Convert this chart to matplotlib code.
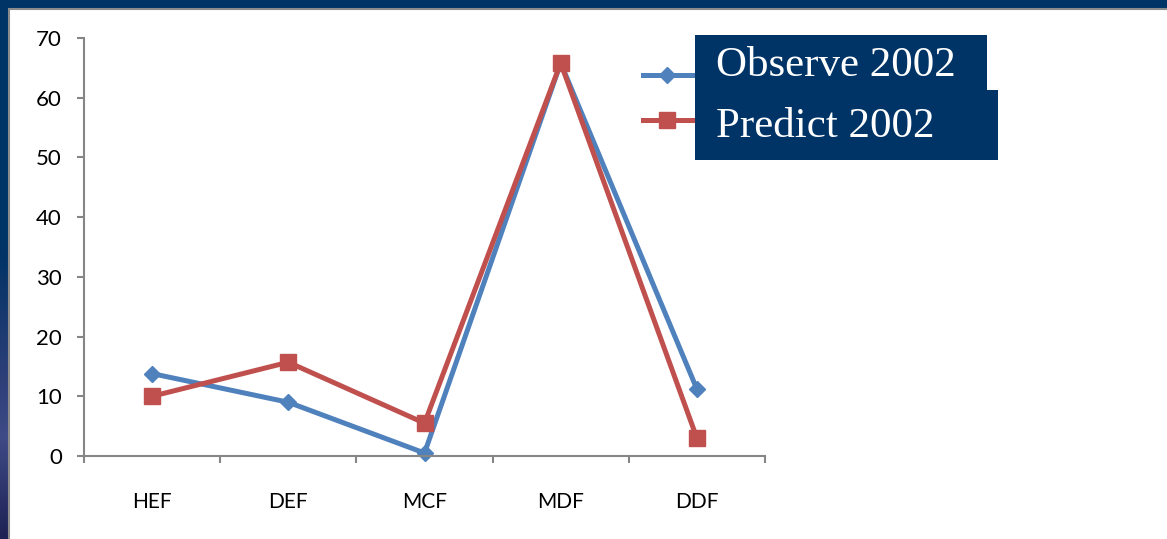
import matplotlib
matplotlib.use("Agg")
import matplotlib.pyplot as plt
import numpy as np
from matplotlib.patches import Rectangle
from matplotlib.lines import Line2D
from matplotlib.colors import LinearSegmentedColormap

categories = ["HEF", "DEF", "MCF", "MDF", "DDF"]
observe_2002 = [13.8, 9.0, 0.5, 65.8, 11.2]
predict_2002 = [10.0, 15.7, 5.5, 65.8, 3.0]
y_ticks = [0, 10, 20, 30, 40, 50, 60, 70]
series_labels = ["Observe 2002", "Predict 2002"]

W, H = 1167, 539
DPI = 100
fig = plt.figure(figsize=(W / DPI, H / DPI), dpi=DPI)
navy = "#003366"
fig.patch.set_facecolor(navy)

def fx(px):
    return px / W

def fy(py):
    return 1 - py / H

# decorative gradient on the left slide strip
strip = fig.add_axes([0, 0, fx(10), fy(250)])
strip.set_axis_off()
cmap = LinearSegmentedColormap.from_list(
    "strip", [(0.0, "#1d2154"), (0.35, "#3f4b86"), (0.55, "#2e3f78"), (1.0, navy)])
strip.imshow(np.linspace(0, 1, 200).reshape(-1, 1), aspect="auto", cmap=cmap,
             origin="lower", extent=[0, 1, 0, 1])
strip.set_zorder(-1)

# white slide area with grey edge
fig.patches.append(Rectangle((fx(9), -0.05), 1.1, fy(9) + 0.05, transform=fig.transFigure,
                             facecolor="white", edgecolor="#8c8c8c", linewidth=1.5, zorder=0))

ax = fig.add_axes([fx(84), fy(456), fx(765) - fx(84), fy(38) - fy(456)])
ax.set_facecolor("none")
ax.set_zorder(2)

blue = "#4F81BD"
red = "#C0504D"
x = list(range(len(categories)))
ax.plot(x, observe_2002, color=blue, lw=3.6, marker="D", ms=8.5, mec=blue, mfc=blue, zorder=3,
        solid_joinstyle="round", clip_on=False)
ax.plot(x, predict_2002, color=red, lw=3.6, marker="s", ms=12, mec=red, mfc=red, zorder=4,
        solid_joinstyle="round", clip_on=False)

ax.set_xlim(-0.5, len(categories) - 0.5)
ax.set_ylim(0, 70)
ax.set_yticks(y_ticks)
ax.set_yticklabels([str(v) for v in y_ticks], fontsize=16, family="Lato")
ax.set_xticks([i - 0.5 for i in range(len(categories) + 1)])
ax.set_xticklabels([])
ax.set_xticks(x, minor=True)
ax.set_xticklabels(categories, minor=True, fontsize=15, family="Lato")

grey = "#868686"
for s in ["top", "right"]:
    ax.spines[s].set_visible(False)
for s in ["left", "bottom"]:
    ax.spines[s].set_color(grey)
    ax.spines[s].set_linewidth(1.5)
ax.tick_params(axis="y", which="major", direction="out", length=5, width=1.5, color=grey, pad=11)
ax.tick_params(axis="x", which="major", direction="out", length=5, width=1.5, color=grey)
ax.tick_params(axis="x", which="minor", length=0, pad=26)
ax.spines["bottom"].set_zorder(5)

# custom legend
fig.lines.append(Line2D([fx(643), fx(692)], [fy(75), fy(75)], transform=fig.transFigure,
                        color=blue, lw=3.6, zorder=5))
fig.lines.append(Line2D([fx(667)], [fy(75)], transform=fig.transFigure,
                        color=blue, marker="D", ms=8.5, lw=0, zorder=5))
fig.lines.append(Line2D([fx(643), fx(692)], [fy(120), fy(120)], transform=fig.transFigure,
                        color=red, lw=3.6, zorder=5))
fig.lines.append(Line2D([fx(667)], [fy(120)], transform=fig.transFigure,
                        color=red, marker="s", ms=12, lw=0, zorder=5))

fig.patches.append(Rectangle((fx(695), fy(90)), fx(987) - fx(695), fy(35) - fy(90),
                             transform=fig.transFigure, facecolor=navy, edgecolor="none", zorder=6))
fig.patches.append(Rectangle((fx(695), fy(160)), fx(998) - fx(695), fy(90) - fy(160),
                             transform=fig.transFigure, facecolor=navy, edgecolor="none", zorder=6))
fig.text(fx(716), fy(66), series_labels[0], color="white", fontsize=31, family="Liberation Serif",
         va="center", ha="left", zorder=7)
fig.text(fx(716), fy(127), series_labels[1], color="white", fontsize=31, family="Liberation Serif",
         va="center", ha="left", zorder=7)

fig.savefig("out.png", dpi=DPI, facecolor=fig.get_facecolor())
